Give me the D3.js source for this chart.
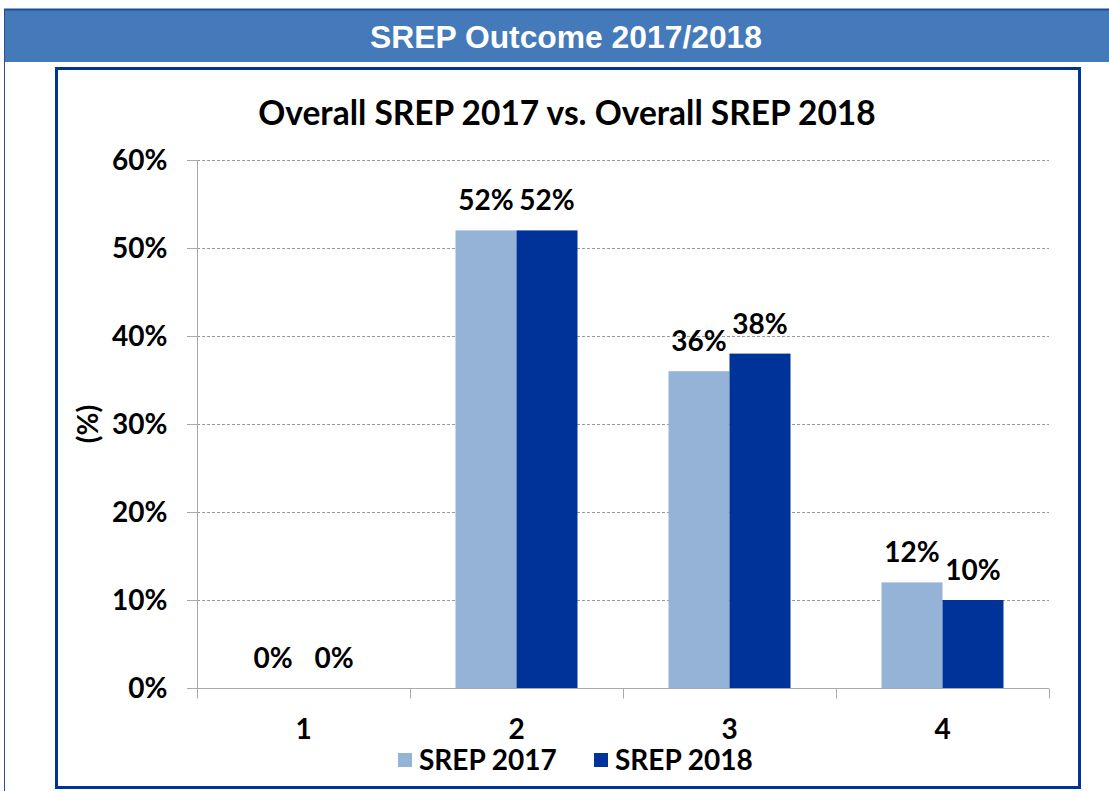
<!DOCTYPE html>
<html>
<head>
<meta charset="utf-8">
<script src="https://cdn.jsdelivr.net/npm/d3@7"></script>
<style>
  body { margin: 0; background: #fff; }
  svg text { fill: #000; }
</style>
</head>
<body>
<svg id="chart" width="1109" height="791"></svg>
<script>
var categories = ['1', '2', '3', '4'];
var seriesNames = ['SREP 2017', 'SREP 2018'];
var srep2017 = [0, 52, 36, 12];
var srep2018 = [0, 52, 38, 10];
var yTicks = [0, 10, 20, 30, 40, 50, 60];
var colors = ['#95b3d7', '#003399'];

var svg = d3.select('#chart'),
    chartFont = 'Lato, "Open Sans", sans-serif',
    labelSize = 28,
    plotLeft = 197,
    plotRight = 1049,
    plotTop = 160,
    plotBottom = 688;

// header band
svg.append('rect')
   .attr('x', 4).attr('y', 9)
   .attr('width', 1105).attr('height', 53)
   .attr('fill', '#4479ba');
svg.append('line')
   .attr('x1', 4).attr('y1', 9.5).attr('x2', 1109).attr('y2', 9.5)
   .attr('stroke', '#1f4e9a').attr('stroke-width', 2);
svg.append('line')
   .attr('x1', 4.5).attr('y1', 9).attr('x2', 4.5).attr('y2', 791)
   .attr('stroke', '#2a4f8f').attr('stroke-width', 1);
svg.append('text')
   .text('SREP Outcome 2017/2018')
   .attr('x', 566).attr('y', 48)
   .attr('text-anchor', 'middle')
   .attr('font-family', '"Liberation Sans", Arial, sans-serif')
   .attr('font-weight', 'bold')
   .attr('font-size', 31)
   .attr('textLength', 392)
   .attr('lengthAdjust', 'spacingAndGlyphs')
   .style('fill', '#fff');

// inner frame
svg.append('rect')
   .attr('x', 56.5).attr('y', 68.5)
   .attr('width', 1023).attr('height', 719)
   .attr('fill', '#fff')
   .attr('stroke', '#003399')
   .attr('stroke-width', 3);

svg.append('text')
   .text('Overall SREP 2017 vs. Overall SREP 2018')
   .attr('x', 567).attr('y', 125)
   .attr('text-anchor', 'middle')
   .attr('font-family', chartFont)
   .attr('font-weight', 'bold')
   .attr('font-size', 33.5);

var x = d3.scaleBand().domain(categories).range([plotLeft, plotRight]);
var xs = d3.scaleBand().domain(seriesNames).range([0, 122]);
var y = d3.scaleLinear().domain([0, 60]).range([plotBottom, plotTop]);

// gridlines
svg.append('g')
   .selectAll('line')
   .data(yTicks.filter(function(d){ return d > 0; }))
   .join('line')
   .attr('x1', plotLeft - 10).attr('x2', plotRight)
   .attr('y1', function(d){ return Math.round(y(d)) + 0.5; })
   .attr('y2', function(d){ return Math.round(y(d)) + 0.5; })
   .attr('stroke', '#999')
   .attr('stroke-dasharray', '3,2');

// y axis
var yAxis = svg.append('g')
   .attr('transform', 'translate(' + (plotLeft + 0.5) + ',0)')
   .call(d3.axisLeft(y).tickValues(yTicks).tickSize(10).tickPadding(20)
     .tickFormat(function(d){ return d + '%'; }));
yAxis.select('.domain').attr('stroke', '#aaa').attr('d', 'M0,' + plotTop + 'V' + plotBottom);
yAxis.selectAll('.tick line').attr('stroke', '#aaa');
yAxis.selectAll('.tick text')
   .attr('font-family', chartFont).attr('font-weight', 'bold').attr('font-size', labelSize)
   .attr('dy', '0.35em');

svg.append('text')
   .text('(%)')
   .attr('transform', 'translate(98,424) rotate(-90)')
   .attr('text-anchor', 'middle')
   .attr('font-family', chartFont)
   .attr('font-weight', 'bold')
   .attr('font-size', labelSize);

// bars
var rows = categories.map(function(c, i){
  return { cat: c, values: [srep2017[i], srep2018[i]] };
});

var groups = svg.append('g')
   .selectAll('g')
   .data(rows)
   .join('g')
   .attr('transform', function(d){ return 'translate(' + (x(d.cat) + (x.bandwidth() - 122) / 2) + ',0)'; });

groups.selectAll('rect')
   .data(function(d){ return d.values.map(function(v, j){ return { name: seriesNames[j], v: v, j: j }; }); })
   .join('rect')
   .attr('x', function(d){ return xs(d.name); })
   .attr('width', xs.bandwidth())
   .attr('y', function(d){ return y(d.v); })
   .attr('height', function(d){ return plotBottom - y(d.v); })
   .attr('fill', function(d){ return colors[d.j]; });

groups.selectAll('text')
   .data(function(d){ return d.values.map(function(v, j){ return { name: seriesNames[j], v: v }; }); })
   .join('text')
   .text(function(d){ return d.v + '%'; })
   .attr('x', function(d){ return xs(d.name) + xs.bandwidth() / 2; })
   .attr('y', function(d){ return y(d.v) - 20; })
   .attr('text-anchor', 'middle')
   .attr('font-family', chartFont)
   .attr('font-weight', 'bold')
   .attr('font-size', labelSize);

// x axis
var xAxis = svg.append('g')
   .attr('transform', 'translate(0,' + (plotBottom + 0.5) + ')')
   .call(d3.axisBottom(x).tickSize(0).tickPadding(31));
xAxis.select('.domain').attr('stroke', '#aaa').attr('d', 'M' + (plotLeft - 10) + ',0H' + plotRight);
xAxis.selectAll('.tick text')
   .attr('font-family', chartFont).attr('font-weight', 'bold').attr('font-size', labelSize);
xAxis.append('g')
   .selectAll('line')
   .data(categories.concat(['end']))
   .join('line')
   .attr('x1', function(d, i){ return Math.round(plotLeft + i * x.bandwidth()) + 0.5; })
   .attr('x2', function(d, i){ return Math.round(plotLeft + i * x.bandwidth()) + 0.5; })
   .attr('y1', 0).attr('y2', 10)
   .attr('stroke', '#aaa');

// legend
var legendX = [398, 594];
var legend = svg.append('g')
   .selectAll('g')
   .data(seriesNames)
   .join('g')
   .attr('transform', function(d, i){ return 'translate(' + legendX[i] + ',753)'; });
legend.append('rect')
   .attr('width', 14).attr('height', 14)
   .attr('fill', function(d, i){ return colors[i]; });
legend.append('text')
   .text(function(d){ return d; })
   .attr('x', 21).attr('y', 17)
   .attr('font-family', chartFont)
   .attr('font-weight', 'bold')
   .attr('font-size', labelSize);
</script>
</body>
</html>
